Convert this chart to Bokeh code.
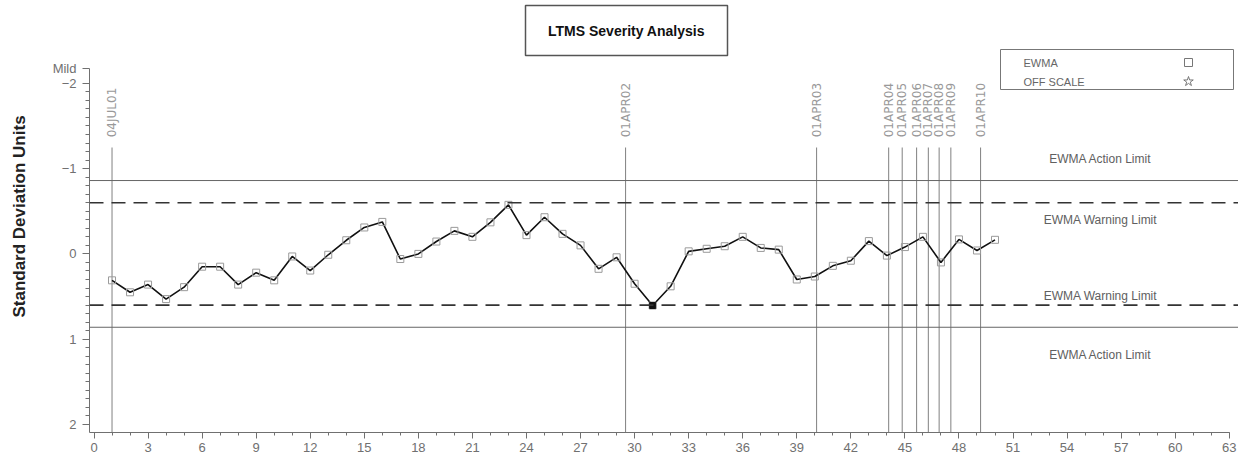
import numpy as np
from bokeh.plotting import figure
from bokeh.models import Range1d, FixedTicker, Span, ColumnDataSource
from bokeh.core.properties import value
from bokeh.embed import file_html
from bokeh.resources import INLINE

# ---------------- data ----------------
test_no = list(range(1, 51))
ewma = [0.31, 0.45, 0.36, 0.53, 0.39, 0.15, 0.15, 0.36, 0.22, 0.31,
        0.03, 0.195, 0.01, -0.16, -0.31, -0.375, 0.06, 0.0, -0.145, -0.27,
        -0.20, -0.37, -0.575, -0.22, -0.43, -0.235, -0.10, 0.175, 0.04, 0.35,
        0.605, 0.38, -0.03, -0.06, -0.09, -0.20, -0.07, -0.05, 0.30, 0.265,
        0.14, 0.08, -0.15, 0.02, -0.08, -0.20, 0.10, -0.17, -0.04, -0.165]

event_x = [1.0, 29.5, 40.1, 44.1, 44.85, 45.65, 46.3, 46.9, 47.55, 49.2]
event_labels = ["04JUL01", "01APR02", "01APR03", "01APR04", "01APR05",
                "01APR06", "01APR07", "01APR08", "01APR09", "01APR10"]

action_limit = 0.86
warning_limit = 0.60
limit_names = ["EWMA Action Limit", "EWMA Warning Limit",
               "EWMA Warning Limit", "EWMA Action Limit"]

x_ticks = list(range(0, 64, 3))
y_ticks = [-2.17, -2, -1, 0, 1, 2]
y_tick_labels = ["Mild", "\u22122", "\u22121", "0", "1", "2"]

legend_labels = ["EWMA", "OFF SCALE"]
legend_markers = ["square", "star"]

title_text = "LTMS Severity Analysis"
y_title = "Standard Deviation Units"

# ---------------- layout helpers (reference pixel -> data) ----------------
def dx(px):
    return (px - 93.5) / 18.02

def dy(py):
    return (py - 253.4) / 85.3

FONT = "Liberation Sans"
GREY = "#707070"

X0, X1 = dx(89), dx(1238)
Y_BOTTOM, Y_TOP = dy(432), dy(0)

p = figure(width=1238, height=460,
           x_range=Range1d(X0, X1), y_range=Range1d(Y_BOTTOM, Y_TOP),
           output_backend="svg", toolbar_location=None,
           min_border_left=89, min_border_right=0,
           min_border_top=0, min_border_bottom=28)
p.grid.visible = False
p.outline_line_color = None

# axes
xa = p.xaxis[0]
xa.ticker = FixedTicker(ticks=x_ticks, minor_ticks=list(range(0, 64)))
xa.bounds = (X0, 63)
xa.axis_line_color = GREY
xa.major_tick_line_color = GREY
xa.minor_tick_line_color = GREY
xa.major_tick_in = 0
xa.major_tick_out = 6
xa.minor_tick_in = 0
xa.minor_tick_out = 3
xa.major_label_text_font = FONT
xa.major_label_text_font_size = "13px"
xa.major_label_text_color = GREY
xa.major_label_standoff = 4

ya = p.yaxis[0]
ya.ticker = FixedTicker(ticks=y_ticks,
                        minor_ticks=[round(v, 1) for v in np.arange(-2.0, 2.01, 0.1)])
ya.major_label_overrides = dict(zip(y_ticks, y_tick_labels))
ya.bounds = (-2.17, Y_BOTTOM)
ya.axis_line_color = GREY
ya.major_tick_line_color = GREY
ya.minor_tick_line_color = GREY
ya.major_tick_in = 0
ya.major_tick_out = 7
ya.minor_tick_in = 0
ya.minor_tick_out = 4
ya.major_label_text_font = FONT
ya.major_label_text_font_size = "13px"
ya.major_label_text_color = GREY
ya.major_label_standoff = 6
ya.axis_label = y_title
ya.axis_label_text_font = FONT
ya.axis_label_text_font_style = "bold"
ya.axis_label_text_font_size = "17px"
ya.axis_label_text_color = "#222222"
ya.axis_label_standoff = 21

# limit lines
for loc in (-action_limit, action_limit):
    p.add_layout(Span(location=loc, dimension="width", line_color="#666666", line_width=1))
for loc in (-warning_limit, warning_limit):
    p.add_layout(Span(location=loc, dimension="width", line_color="#333333",
                      line_width=1.6, line_dash="14 8"))

# limit labels
lab_y = [-action_limit - 0.25, -warning_limit + 0.20, warning_limit - 0.105, action_limit + 0.33]
p.text(x=[dx(1100)] * 4, y=lab_y, text=limit_names, text_align="center",
       text_baseline="middle", text_font=value(FONT), text_font_size="12px",
       text_color="#606060")

# event (date) lines and labels
line_top = dy(147)
p.segment(x0=event_x, x1=event_x, y0=[line_top] * len(event_x), y1=[Y_BOTTOM] * len(event_x),
          line_color="#808080", line_width=1)
p.text(x=event_x, y=[line_top - 0.12] * len(event_x), text=event_labels,
       angle=np.pi / 2, text_align="left", text_baseline="middle",
       text_font=value("DejaVu Sans"), text_font_size="12px", text_color="#999999")

# EWMA series
p.line(test_no, ewma, line_color="#111111", line_width=1.6)
src = ColumnDataSource(dict(x=test_no, y=ewma))
p.scatter("x", "y", source=src, marker="square", size=7, fill_color=None,
          line_color="#9a9a9a", line_width=1)
flag_x = [x for x, v in zip(test_no, ewma) if abs(v) >= warning_limit]
flag_y = [v for v in ewma if abs(v) >= warning_limit]
p.scatter(flag_x, flag_y, marker="square", size=6, fill_color="#111111", line_color="#111111")

# title box
p.rect(x=[dx(626)], y=[dy(30)], width=[202], height=[50], width_units="screen",
       height_units="screen", fill_color=None, line_color="#555555", line_width=1.5)
p.text(x=[dx(626)], y=[dy(30)], text=[title_text], text_align="center",
       text_baseline="middle", text_font=value(FONT), text_font_style="bold",
       text_font_size="14px", text_color="#111111")

# legend box
p.rect(x=[dx(1116.5)], y=[dy(69)], width=[233], height=[40], width_units="screen",
       height_units="screen", fill_color=None, line_color="#777777", line_width=1)
leg_y = [dy(62), dy(81)]
p.text(x=[dx(1023)] * 2, y=leg_y, text=legend_labels, text_align="left",
       text_baseline="middle", text_font=value(FONT), text_font_size="11px",
       text_color="#666666")
p.scatter(x=[dx(1188)] * 2, y=leg_y, marker=legend_markers, size=[8, 10],
          fill_color=None, line_color="#777777")

open("out.html", "w").write(file_html(p, INLINE))
